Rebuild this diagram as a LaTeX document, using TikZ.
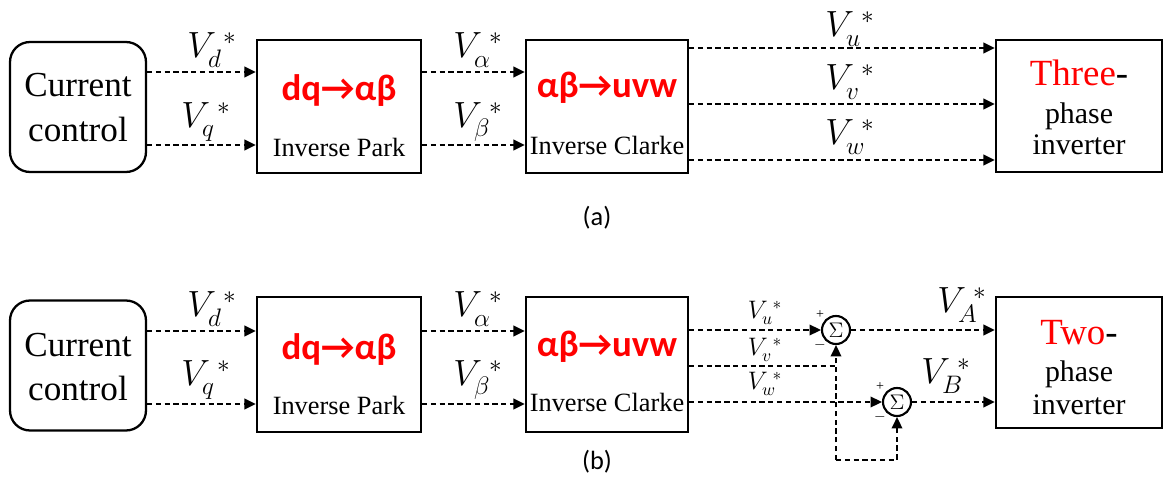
\documentclass[tikz,border=0pt]{standalone}
\usepackage{fontspec}
\setmainfont{Liberation Serif}
\newfontfamily\calibri{Carlito}
\newfontfamily\timesf{Liberation Serif}
\usetikzlibrary{positioning,arrows.meta}
\tikzset{>={Triangle[length=6.5pt,width=6pt]}}
\tikzset{
  blk/.style={draw, line width=1.3pt, minimum width=3.28cm, minimum height=2.66cm},
  ctrl/.style={blk, rounded corners=0.4cm, minimum width=2.72cm, minimum height=2.6cm},
  sig/.style={line width=1.2pt, dash pattern=on 3pt off 2pt},
  sumnode/.style={draw, circle, line width=1.2pt, minimum size=0.56cm, inner sep=0pt, font=\fontsize{13}{14}\selectfont},
  big/.style={font=\timesf\fontsize{20}{22}\selectfont},
  red title/.style={red, font=\calibri\bfseries\fontsize{21}{24}\selectfont},
  sub/.style={font=\timesf\fontsize{15}{17}\selectfont},
  inv title/.style={font=\timesf\fontsize{21}{23}\selectfont},
  inv text/.style={font=\timesf\fontsize{17}{19}\selectfont},
  vlab/.style={font=\fontsize{21}{23}\selectfont},
  slab/.style={font=\fontsize{14}{15}\selectfont},
  pm/.style={font=\fontsize{8}{9}\selectfont, inner sep=0pt},
}
\begin{document}
\begin{tikzpicture}[x=0.02cm,y=-0.02cm]
  \useasboundingbox (0,0) rectangle (1163,483);

  % ---- (a) three-phase ----
  \node[ctrl] (cc) at (78,107) {};
  \node[big] (ccT1) at (78,85) {Current};
  \node[big] (ccT2) at (78,129) {control};
  \node[blk] (park) at (339,106.5) {};
  \node[red title] (parkT) at (339,91) {dq→αβ};
  \node[sub] (parkS) at (339,147) {Inverse Park};
  \node[blk, minimum width=3.24cm] (clarke) at (607,106.5) {};
  \node[red title] (clarkeT) at (607,88) {αβ→uvw};
  \node[sub] (clarkeS) at (607,145) {Inverse Clarke};
  \node[blk, minimum width=3.32cm, minimum height=2.64cm] (inv) at (1079,106) {};
  \node[inv title] (invT) at (1079,73) {\textcolor{red}{Three}-};
  \node[inv text] (invS1) at (1079,116) {phase};
  \node[inv text] (invS2) at (1079,145) {inverter};

  \draw[sig, ->] (cc.east |- 0,72) -- (park.west |- 0,72);
  \draw[sig, ->] (cc.east |- 0,145) -- (park.west |- 0,145);
  \draw[sig, ->] (park.east |- 0,72) -- (clarke.west |- 0,72);
  \draw[sig, ->] (park.east |- 0,145) -- (clarke.west |- 0,145);
  \foreach \yy in {48,104,160}
    \draw[sig, ->] (clarke.east |- 0,\yy) -- (inv.west |- 0,\yy);

  \node[vlab] (vd) at (212,50) {$V_d^{\;*}$};
  \node[vlab] (vq) at (206,122) {$V_q^{\;*}$};
  \node[vlab] (va) at (478,50) {$V_\alpha^{\;*}$};
  \node[vlab] (vb) at (478,122) {$V_\beta^{\;*}$};
  \node[vlab] (vu) at (850,29) {$V_u^{\;*}$};
  \node[vlab] (vv) at (850,82) {$V_v^{\;*}$};
  \node[vlab] (vw) at (850,137) {$V_w^{\;*}$};

  \node[font=\calibri\fontsize{15}{17}\selectfont] (capa) at (597,218) {(a)};

  % ---- (b) two-phase ----
  \node[ctrl] (cc2) at (78,365.5) {};
  \node[big] (cc2T1) at (78,345) {Current};
  \node[big] (cc2T2) at (78,388) {control};
  \node[blk, minimum height=2.7cm] (park2) at (339,364.5) {};
  \node[red title] (park2T) at (339,350) {dq→αβ};
  \node[sub] (park2S) at (339,405) {Inverse Park};
  \node[blk, minimum width=3.24cm, minimum height=2.7cm] (clarke2) at (607,364.5) {};
  \node[red title] (clarke2T) at (607,347) {αβ→uvw};
  \node[sub] (clarke2S) at (607,402) {Inverse Clarke};
  \node[blk, minimum width=3.32cm, minimum height=2.62cm] (inv2) at (1079,362.5) {};
  \node[inv title] (inv2T) at (1079,333) {\textcolor{red}{Two}-};
  \node[inv text] (inv2S1) at (1079,374) {phase};
  \node[inv text] (inv2S2) at (1079,405) {inverter};

  \node[sumnode] (sum1) at (836,330) {$\Sigma$};
  \node[sumnode] (sum2) at (897,402) {$\Sigma$};
  \node[pm] (p1) at (820,315) {+};
  \node[pm] (m1) at (820,345) {$-$};
  \node[pm] (p2) at (880,387) {+};
  \node[pm] (m2) at (880,417) {$-$};
  \coordinate (fb) at (836,460);

  \draw[sig, ->] (cc2.east |- 0,331) -- (park2.west |- 0,331);
  \draw[sig, ->] (cc2.east |- 0,404) -- (park2.west |- 0,404);
  \draw[sig, ->] (park2.east |- 0,331) -- (clarke2.west |- 0,331);
  \draw[sig, ->] (park2.east |- 0,404) -- (clarke2.west |- 0,404);
  \draw[sig, ->] (clarke2.east |- sum1) -- (sum1.west);
  \draw[sig] (clarke2.east |- 0,366) -- (fb |- 0,366);
  \draw[sig, ->] (clarke2.east |- sum2) -- (sum2.west);
  \draw[sig, ->] (fb) -- (sum1.south);
  \draw[sig, ->] (fb) -| (sum2.south);
  \draw[sig, ->] (sum1.east) -- (inv2.west |- sum1);
  \draw[sig, ->] (sum2.east) -- (inv2.west |- sum2);

  \node[vlab] (vd2) at (212,309) {$V_d^{\;*}$};
  \node[vlab] (vq2) at (206,380) {$V_q^{\;*}$};
  \node[vlab] (va2) at (478,309) {$V_\alpha^{\;*}$};
  \node[vlab] (vb2) at (478,380) {$V_\beta^{\;*}$};
  \node[slab] (vu2) at (765,313) {$V_u^{\;*}$};
  \node[slab] (vv2) at (765,350) {$V_v^{\;*}$};
  \node[slab] (vw2) at (765,384) {$V_w^{\;*}$};
  \node[vlab] (vA) at (962,305) {$V_A^{\;*}$};
  \node[vlab] (vB) at (946,376) {$V_B^{\;*}$};

  \node[font=\calibri\fontsize{15}{17}\selectfont] (capb) at (597,462) {(b)};
\end{tikzpicture}
\end{document}
